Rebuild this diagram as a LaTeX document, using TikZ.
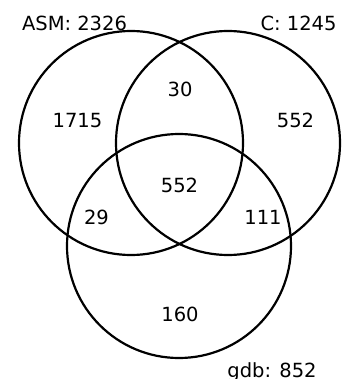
\documentclass[tikz,border=0pt]{standalone}
\usepackage{fontspec}
\setmainfont{DejaVu Sans}
\begin{document}
\begin{tikzpicture}[x=1pt,y=-1pt,
  setc/.style={draw=black,line width=2.2pt,circle,minimum size=224pt,inner sep=0pt},
  lbl/.style={anchor=base,inner sep=0pt,font=\fontsize{19.5}{22}\selectfont}]
\useasboundingbox (0,0) rectangle (341,379);
\node[setc] (asm) at (131,143) {};
\node[setc] (c) at (228,143) {};
\node[setc] (gdb) at (179,246) {};
\node[lbl] (tasm) at (74.5,31) {ASM: 2326};
\node[lbl] (tc) at (298.5,31) {C: 1245};
\node[lbl] (tgdb) at (272,377) {gdb: 852};
\node[lbl] (n1) at (77.5,128) {1715};
\node[lbl] (n2) at (180,97) {30};
\node[lbl] (n3) at (295.5,128) {552};
\node[lbl] (n4) at (179.5,192.5) {552};
\node[lbl] (n5) at (96.5,224) {29};
\node[lbl] (n6) at (263,224) {111};
\node[lbl] (n7) at (180,321) {160};
\end{tikzpicture}
\end{document}
